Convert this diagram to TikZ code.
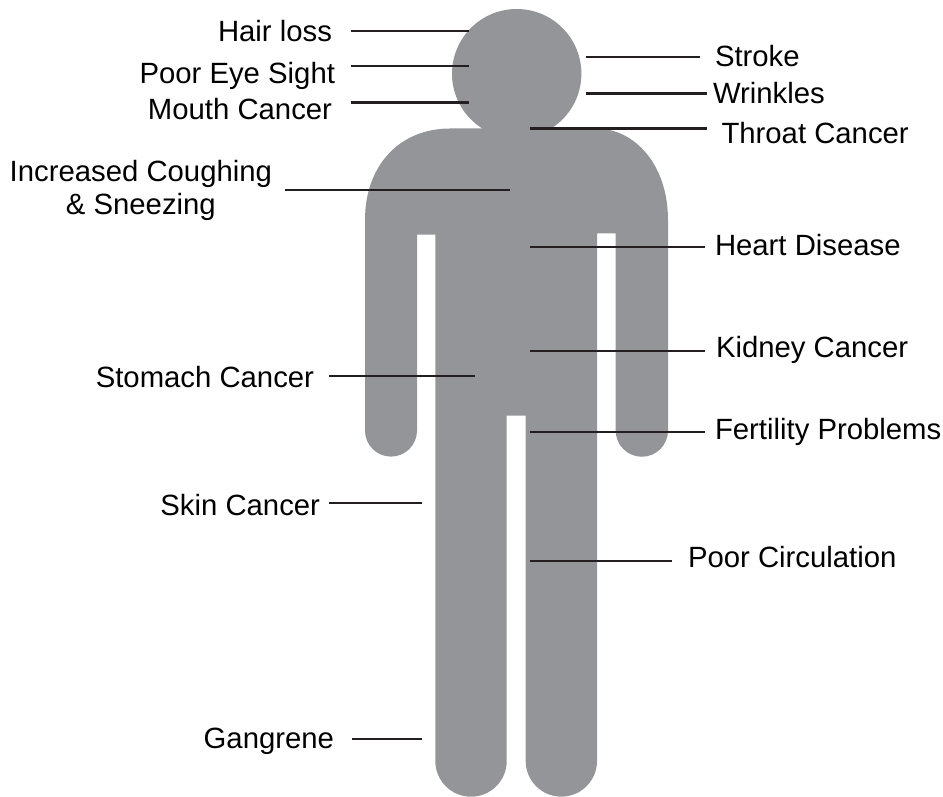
\documentclass[tikz,border=0pt]{standalone}
\usepackage{fontspec}
\setmainfont{Liberation Sans}
\usepackage{xcolor}
\definecolor{bodygrey}{HTML}{939598}
\definecolor{leadblack}{HTML}{231F20}

\begin{document}
\begin{tikzpicture}[x=1pt,y=-1pt,every node/.style={inner sep=0pt,text=black},font=\fontsize{29.3}{33}\selectfont,
    leftlab/.style={anchor=base east},rightlab/.style={anchor=base west},
    lead/.style={draw=leadblack,line width=2.6pt}]
  \useasboundingbox (0,0) rectangle (943,797);
  \fill[bodygrey] (516.7,73.7) circle[radius=64.7pt];
  \fill[bodygrey] (365,220) .. controls (365,165) and (400,128.5) .. (450,128.5) -- (596,128.5)
    .. controls (635,128.5) and (668,165) .. (668,220) -- (668,430.6)
    arc[start angle=0,end angle=-180,radius=26.15pt] -- (615.7,233.3) -- (597,233.3) -- (597,761)
    arc[start angle=0,end angle=-180,radius=35.65pt] -- (525.7,415.7) -- (506.7,415.7) -- (506.7,761)
    arc[start angle=0,end angle=-180,radius=35.7pt] -- (435.3,234.7) -- (417,234.7) -- (417,430.6)
    arc[start angle=0,end angle=-180,radius=26pt] -- cycle;

  \node[leftlab,outer xsep=19pt] (hair) at (351,41.5) {Hair loss};
  \node[leftlab,outer xsep=16pt] (eye) at (351,83.5) {Poor Eye Sight};
  \node[leftlab,outer xsep=19pt] (mouth) at (351,119.5) {Mouth Cancer};
  \node[align=center,anchor=east,outer xsep=13pt] (cough) at (285,190.5) {Increased Coughing\\\& Sneezing};
  \node[leftlab,outer xsep=15pt] (stomach) at (329,387.5) {Stomach Cancer};
  \node[leftlab,outer xsep=9pt] (skin) at (329,515.5) {Skin Cancer};
  \node[leftlab,outer xsep=18pt] (gangrene) at (352,748.5) {Gangrene};
  \node[rightlab,outer xsep=15pt] (stroke) at (700,66.5) {Stroke};
  \node[rightlab,outer xsep=6pt] (wrinkles) at (707,103.5) {Wrinkles};
  \node[rightlab,outer xsep=14.5pt] (throat) at (707,144) {Throat Cancer};
  \node[rightlab,outer xsep=10pt] (heart) at (705,255.5) {Heart Disease};
  \node[rightlab,outer xsep=11pt] (kidney) at (705,357.5) {Kidney Cancer};
  \node[rightlab,outer xsep=10pt] (fertility) at (705,439.5) {Fertility Problems};
  \node[rightlab,outer xsep=16pt] (circulation) at (672,567.5) {Poor Circulation};

  \coordinate (hairend) at (469,31);
  \coordinate (eyeend) at (469,66);
  \coordinate (mouthend) at (469,102.5);
  \coordinate (coughend) at (510,190);
  \coordinate (stomachend) at (475,376);
  \coordinate (skinend) at (422,503);
  \coordinate (gangreneend) at (422,739);
  \coordinate (strokeend) at (586,57);
  \coordinate (wrinklesend) at (586,93.5);
  \coordinate (throatend) at (530,128.5);
  \coordinate (heartend) at (530,247);
  \coordinate (kidneyend) at (530,351);
  \coordinate (fertilityend) at (530,432);
  \coordinate (circulationend) at (530,561);

  \foreach \n in {hair,eye,mouth,cough,stomach,skin,gangrene}
    \draw[lead] (\n.east |- \n end) -- (\n end);
  \foreach \n in {stroke,wrinkles,throat,heart,kidney,fertility,circulation}
    \draw[lead] (\n.west |- \n end) -- (\n end);
\end{tikzpicture}
\end{document}
